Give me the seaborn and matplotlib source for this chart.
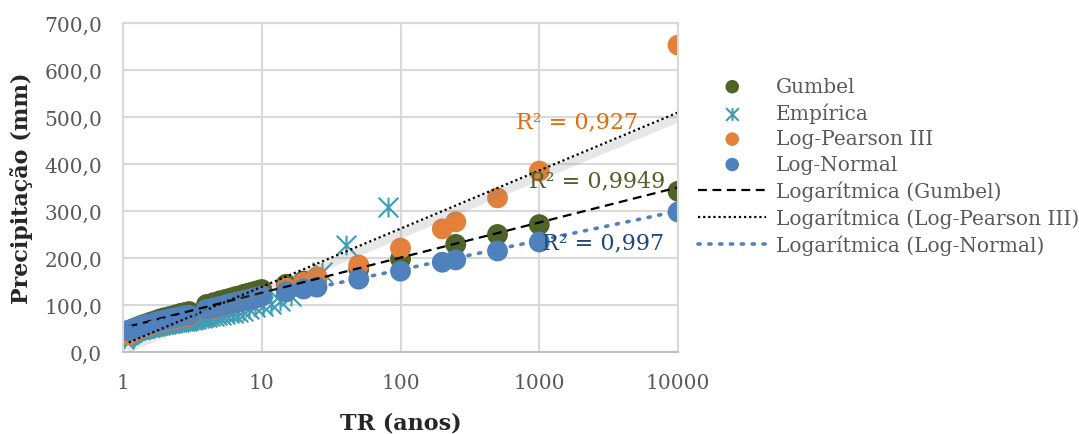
import numpy as np
import seaborn as sns
import matplotlib.pyplot as plt
import matplotlib.patheffects as pe
from matplotlib.path import Path
from matplotlib.ticker import NullLocator

# periodos de retorno (anos) e precipitacoes (mm)
tr_emp = [81, 40.5, 27, 20.25, 16.2, 13.5, 11.57, 10.13, 9.0, 8.1, 7.36, 6.75, 6.23, 5.79,
          5.4, 5.06, 4.76, 4.5, 4.26, 4.05, 3.86, 3.68, 3.52, 3.38, 3.24, 3.12, 3.0, 2.89,
          2.79, 2.7, 2.61, 2.53, 2.45, 2.38, 2.31, 2.25, 2.19, 2.13, 2.08, 2.03, 1.98, 1.93,
          1.88, 1.84, 1.8, 1.76, 1.72, 1.69, 1.65, 1.62, 1.59, 1.56, 1.53, 1.5, 1.47, 1.45,
          1.42, 1.4, 1.37, 1.35, 1.33, 1.31, 1.29, 1.27, 1.25, 1.23, 1.21, 1.19, 1.17, 1.16,
          1.14, 1.13, 1.11, 1.1, 1.08, 1.07, 1.05, 1.04, 1.03, 1.01]
p_emp = [308, 228, 170, 140, 120, 108, 102, 98, 95, 92, 88, 86, 84, 82,
         80, 79, 78, 77, 76, 75, 74, 73, 72, 71, 70, 69, 68, 67,
         66, 66, 65, 64, 64, 63, 63, 62, 62, 61, 61, 60, 60, 59,
         59, 58, 58, 57, 57, 56, 56, 55, 55, 54, 54, 53, 53, 52,
         52, 51, 51, 50, 50, 49, 48, 48, 47, 46, 46, 45, 44, 43,
         42, 41, 40, 39, 38, 37, 36, 34, 32, 28]

tr_gumbel = [1.1, 1.15, 1.2, 1.25, 1.3, 1.35, 1.4, 1.5, 1.6, 1.7, 1.8, 1.9, 2.0, 2.2, 2.4, 2.6,
             2.8, 3.0, 4, 4.5, 5, 5.5, 6, 6.5, 7, 7.5, 8, 8.5, 9, 9.5, 10,
             15, 20, 25, 50, 100, 250, 500, 1000, 10000]
p_gumbel = [43, 47, 50, 52, 54, 56, 58, 61, 64, 66, 69, 71, 73, 76, 79, 82,
            84, 86, 101, 105, 109, 112, 115, 118, 120, 123, 125, 127, 129, 131, 133,
            144, 151, 157, 177, 198, 229, 250, 271, 342]

tr_lp3 = [1.1, 1.15, 1.2, 1.25, 1.3, 1.35, 1.4, 1.5, 1.6, 1.7, 1.8, 1.9, 2.0, 2.2, 2.4, 2.6,
          2.8, 3.0, 4, 4.5, 5, 5.5, 6, 6.5, 7, 7.5, 8, 8.5, 9, 9.5, 10,
          15, 20, 25, 50, 100, 200, 250, 500, 1000, 10000]
p_lp3 = [37, 41, 44, 47, 49, 51, 53, 56, 59, 61, 63, 65, 66, 69, 71, 73,
         75, 76, 90, 93, 96, 99, 102, 105, 107, 109, 111, 113, 115, 117, 119,
         136, 148, 160, 185, 221, 262, 277, 328, 385, 653]

tr_ln = tr_lp3
p_ln = [45, 48, 50, 52, 54, 55, 57, 59, 61, 63, 65, 67, 68, 71, 73, 75,
        77, 78, 91, 94, 97, 100, 103, 105, 107, 109, 111, 113, 115, 117, 119,
        128, 134, 138, 155, 172, 191, 196, 215, 234, 298]

r2_labels = ["R² = 0,927", "R² = 0,9949", "R² = 0,997"]
r2_pos = [(680, 491), (840, 364), (1040, 234)]

verde = "#4F6228"
azul_esv = "#3E9DB5"
laranja = "#E3803A"
azul = "#4F81BD"

sns.set_style("white")
plt.rcParams['font.family'] = ['DejaVu Serif']

fig = plt.figure(figsize=(10.79, 4.35), dpi=100)
ax = fig.add_axes([0.114, 0.1885, 0.5144, 0.7563])
ax.set_xscale("log")

estrela = Path([(0, -1), (0, 1), (-1, -1), (1, 1), (-1, 1), (1, -1)],
               [Path.MOVETO, Path.LINETO] * 3)

sns.scatterplot(x=tr_gumbel, y=p_gumbel, color=verde, s=225, edgecolor="none", label="Gumbel", ax=ax)
sns.scatterplot(x=tr_emp, y=p_emp, marker=estrela, color=azul_esv, edgecolor=azul_esv,
                linewidth=1.5, s=200, label="Empírica", ax=ax)
sns.scatterplot(x=tr_lp3, y=p_lp3, color=laranja, s=225, edgecolor="none", label="Log-Pearson III", ax=ax)
sns.scatterplot(x=tr_ln, y=p_ln, color=azul, s=225, edgecolor="none", label="Log-Normal", ax=ax)
pontos = list(ax.collections)

# linhas de tendencia logaritmicas
sns.regplot(x=tr_gumbel, y=p_gumbel, logx=True, scatter=False, ci=None, ax=ax,
            line_kws=dict(color="black", lw=1.6, ls=(0, (4, 2.5))))
l_gumbel = ax.lines[-1]
# sombra da tendencia LP3
sns.regplot(x=tr_lp3, y=p_lp3, logx=True, scatter=False, ci=None, ax=ax,
            line_kws=dict(color="black", lw=1.5, alpha=0.0,
                          path_effects=[pe.SimpleLineShadow(offset=(1.5, -3.5), shadow_color="#888888",
                                                            alpha=0.2, linewidth=6)]))
sns.regplot(x=tr_lp3, y=p_lp3, logx=True, scatter=False, ci=None, ax=ax,
            line_kws=dict(color="black", lw=1.6, ls=(0, (1, 1.3))))
l_lp3 = ax.lines[-1]
sns.regplot(x=tr_ln, y=p_ln, logx=True, scatter=False, ci=None, ax=ax,
            line_kws=dict(color=azul, lw=2.6, ls=(0, (0.6, 2.4)), dash_capstyle="round"))
l_ln = ax.lines[-1]

for txt, (xx, yy), cor in zip(r2_labels, r2_pos, ["#E46C0A", verde, "#1F497D"]):
    ax.text(xx, yy, txt, color=cor, fontsize=16, va="center", ha="left")

ax.set_xlim(1, 10000)
ax.set_ylim(0, 700)
ax.set_xticks([1, 10, 100, 1000, 10000])
ax.set_xticklabels(["1", "10", "100", "1000", "10000"])
ax.xaxis.set_minor_locator(NullLocator())
ax.set_yticks(np.arange(0, 701, 100))
ax.set_yticklabels([f"{v:.1f}".replace(".", ",") for v in np.arange(0, 701, 100)])
ax.tick_params(length=0, labelsize=14.5, labelcolor="#595959")
ax.tick_params(axis="y", pad=15)
ax.tick_params(axis="x", pad=15)
ax.grid(True, color="#D9D9D9", lw=1.5)
for s in ["top", "right", "left"]:
    ax.spines[s].set_color("#D9D9D9")
    ax.spines[s].set_linewidth(1.5)
ax.spines["bottom"].set_color("#BFBFBF")
ax.spines["bottom"].set_linewidth(1.5)

ax.set_xlabel("TR (anos)", fontsize=16, fontweight="bold", labelpad=14)
ax.set_ylabel("Precipitação (mm)", fontsize=16, fontweight="bold", labelpad=8)

handles = pontos + [l_gumbel, l_lp3, l_ln]
labels = ["Gumbel", "Empírica", "Log-Pearson III", "Log-Normal",
          "Logarítmica (Gumbel)", "Logarítmica (Log-Pearson III)", "Logarítmica (Log-Normal)"]
leg = ax.legend(handles, labels, loc="upper left", bbox_to_anchor=(698 / 1079, 1 - 78 / 435),
                bbox_transform=fig.transFigure, frameon=False, handlelength=3.4,
                handletextpad=0.45, labelspacing=0.32, markerscale=0.65,
                borderpad=0, borderaxespad=0, fontsize=14.5)
for t in leg.get_texts():
    t.set_color("#595959")

fig.savefig("out.png", dpi=100)
